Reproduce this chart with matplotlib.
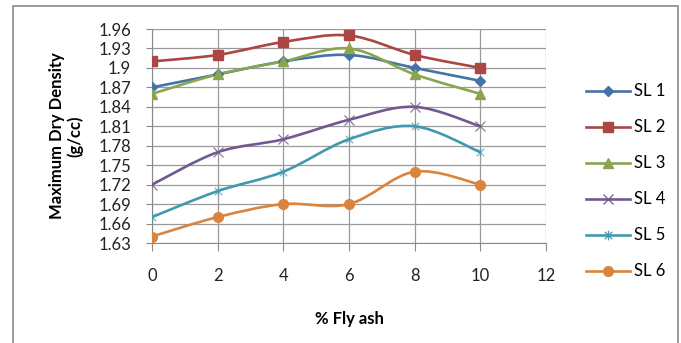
import matplotlib
matplotlib.use("Agg")
import matplotlib.pyplot as plt
import numpy as np
from matplotlib.path import Path
from matplotlib.patches import PathPatch, Rectangle
from matplotlib.lines import Line2D

plt.rcParams['font.family'] = ['Lato', 'DejaVu Sans']

fly_ash = [0, 2, 4, 6, 8, 10]
sl1 = [1.87, 1.89, 1.91, 1.92, 1.90, 1.88]
sl2 = [1.91, 1.92, 1.94, 1.95, 1.92, 1.90]
sl3 = [1.86, 1.89, 1.91, 1.93, 1.89, 1.86]
sl4 = [1.72, 1.77, 1.79, 1.82, 1.84, 1.81]
sl5 = [1.67, 1.71, 1.74, 1.79, 1.81, 1.77]
sl6 = [1.64, 1.67, 1.69, 1.69, 1.74, 1.72]
names = ["SL 1", "SL 2", "SL 3", "SL 4", "SL 5", "SL 6"]
yticks = [1.63, 1.66, 1.69, 1.72, 1.75, 1.78, 1.81, 1.84, 1.87, 1.90, 1.93, 1.96]
ytick_labels = ["1.63", "1.66", "1.69", "1.72", "1.75", "1.78", "1.81", "1.84", "1.87", "1.9", "1.93", "1.96"]
xticks = [0, 2, 4, 6, 8, 10, 12]

colors = ["#4572A7", "#AA4643", "#89A54E", "#71588F", "#4198AF", "#DB843D"]

asterisk = Path([(-1, -1), (1, 1), (-1, 1), (1, -1), (0, -1.3), (0, 1.3)],
                [Path.MOVETO, Path.LINETO, Path.MOVETO, Path.LINETO, Path.MOVETO, Path.LINETO])
markers = ["D", "s", "^", "x", asterisk, "o"]
msizes = [5.5, 6.5, 7, 7, 7, 7]

fig = plt.figure(figsize=(6.81, 3.43), dpi=100)
ax = fig.add_axes([152/681, 1-243/343, (546-152)/681, (243-29)/343])

def smooth_path(x, y):
    x = np.asarray(x, float); y = np.asarray(y, float)
    n = len(x)
    verts = [(x[0], y[0])]
    codes = [Path.MOVETO]
    for i in range(n - 1):
        p0 = np.array([x[max(i-1, 0)], y[max(i-1, 0)]])
        p1 = np.array([x[i], y[i]])
        p2 = np.array([x[i+1], y[i+1]])
        p3 = np.array([x[min(i+2, n-1)], y[min(i+2, n-1)]])
        c1 = p1 + (p2 - p0) / 6.0
        c2 = p2 - (p3 - p1) / 6.0
        verts += [tuple(c1), tuple(c2), tuple(p2)]
        codes += [Path.CURVE4] * 3
    return Path(verts, codes)

series = [sl1, sl2, sl3, sl4, sl5, sl6]
handles = []
for s, c, m, ms, nm in zip(series, colors, markers, msizes, names):
    patch = PathPatch(smooth_path(fly_ash, s), facecolor='none', edgecolor=c, lw=1.9, zorder=3)
    ax.add_patch(patch)
    if m in ("x",) or m is asterisk:
        ax.plot(fly_ash, s, linestyle='none', marker=m, markersize=ms, color=c,
                markeredgewidth=0.9, zorder=4, alpha=0.7 if m is asterisk else 0.8)
    else:
        ax.plot(fly_ash, s, linestyle='none', marker=m, markersize=ms, color=c, zorder=4)
    handles.append(Line2D([], [], color=c, lw=1.9, marker=m, markersize=ms,
                          markeredgewidth=0.9 if (m == "x" or m is asterisk) else 1.0))

ax.set_xlim(0, 12)
ax.set_ylim(1.63, 1.96)
ax.set_xticks(xticks)
ax.set_yticks(yticks)
ax.set_yticklabels(ytick_labels)
ax.grid(True, color='#9a9a9a', lw=0.9)
ax.set_axisbelow(True)
for sp in ['top', 'right']:
    ax.spines[sp].set_visible(False)
ax.spines['left'].set_color('#8a8a8a')
ax.spines['bottom'].set_color('#8a8a8a')
ax.tick_params(axis='both', colors='#8a8a8a', labelcolor='#222222', labelsize=12, length=4)
ax.tick_params(axis='x', pad=12, length=6)
ax.tick_params(axis='y', pad=11)

ax.set_xlabel("% Fly ash", fontsize=12, fontweight='bold')
ax.xaxis.set_label_coords(0.5, (243-311)/214)
ax.set_ylabel("Maximum Dry Density\n(g/cc)", fontsize=12, fontweight='bold', linespacing=1.1)
ax.yaxis.set_label_coords((83-152)/394, 0.5)

leg = fig.legend(handles, names, loc='upper left', bbox_to_anchor=(583/681, 1-80/343),
                 frameon=False, fontsize=12, handlelength=2.6, labelspacing=1.2,
                 handletextpad=0.25, borderaxespad=0, borderpad=0.2)

fig.patches.append(Rectangle((13/681, -0.05), (678-13)/681, 1-6/343+0.05, transform=fig.transFigure,
                             fill=False, edgecolor='#8a8a8a', lw=1.2))

fig.savefig("out.png", dpi=100)
